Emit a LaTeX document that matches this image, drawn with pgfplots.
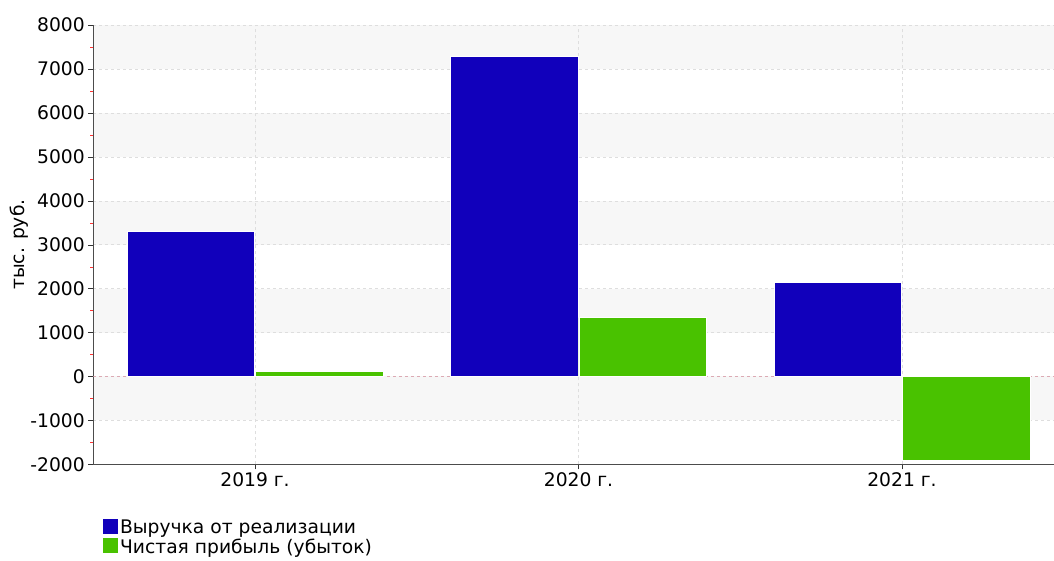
\documentclass[border=0pt]{standalone}
\usepackage{pgfplots}
\pgfplotsset{compat=1.18}
\usepackage{fontspec}
\setmainfont{DejaVu Sans}
\definecolor{cblue}{RGB}{17,0,187}
\definecolor{cgreen}{RGB}{73,194,0}
\definecolor{band}{RGB}{247,247,247}
\definecolor{gridc}{RGB}{222,222,222}
\definecolor{zeroc}{RGB}{220,170,180}
\pgfplotsset{ybar legend/.style={legend image code/.code={\fill[#1, draw=none] (0pt,-6pt) rectangle (15pt,9pt);}}}
\begin{document}
\begin{tikzpicture}
\begin{axis}[
  set layers,
  at={(0,0)}, anchor=south west,
  scale only axis, width=960.7pt, height=439.3pt,
  xmin=-0.5, xmax=2.47, ymin=-2000, ymax=8000,
  axis x line=bottom, axis y line=left,
  axis line style={draw=black!70, -},
  xtick={0,1,2}, xticklabels={2019 г.,2020 г.,2021 г.},
  ytick={-2000,-1000,...,8000},
  minor ytick={-1500,-500,...,7500},
  tick align=outside,
  major tick length=5pt, minor tick length=3pt,
  every major tick/.style={draw=black!80},
  every minor tick/.style={draw=red!80},
  xmajorgrids, ymajorgrids,
  major grid style={draw=gridc, dashed},
  /pgf/number format/assume math mode=true,
  scaled y ticks=false,
  yticklabel style={/pgf/number format/1000 sep={}},
  tick label style={font=\fontsize{18.7}{20}\selectfont},
  ylabel={тыс. руб.},
  ylabel style={at={(axis description cs:-0.077,0.5)}, anchor=center, font=\fontsize{18.7}{20}\selectfont},
  legend style={at={(axis description cs:0.010,-0.122)}, anchor=north west, draw=none, fill=none,
    font=\fontsize{18.7}{19}\selectfont, row sep=0pt, inner sep=0pt,
    /tikz/every even column/.append style={column sep=0pt}},
  legend cell align=left,
  ybar, bar width=0.394,
]
\pgfplotsextra{%
\begin{pgfonlayer}{axis background}
\fill[band] (axis cs:-0.5,7000) rectangle (axis cs:2.47,8000);
\fill[band] (axis cs:-0.5,5000) rectangle (axis cs:2.47,6000);
\fill[band] (axis cs:-0.5,3000) rectangle (axis cs:2.47,4000);
\fill[band] (axis cs:-0.5,1000) rectangle (axis cs:2.47,2000);
\fill[band] (axis cs:-0.5,-1000) rectangle (axis cs:2.47,0);
\end{pgfonlayer}}
\draw[zeroc, dashed] (axis cs:-0.5,0) -- (axis cs:2.47,0);
\addplot[fill=cblue, draw=white, line width=0.5pt, bar shift=-0.198] coordinates {(0,3300) (1,7280) (2,2140)};
\addlegendentry{Выручка от реализации}
\addplot[fill=cgreen, draw=white, line width=0.5pt, bar shift=0.198] coordinates {(0,120) (1,1340) (2,-1900)};
\addlegendentry{Чистая прибыль (убыток)}
\end{axis}
\pgfresetboundingbox
\path[use as bounding box] (-93.3pt,-95.7pt) rectangle (960.7pt,464.3pt);
\end{tikzpicture}
\end{document}
